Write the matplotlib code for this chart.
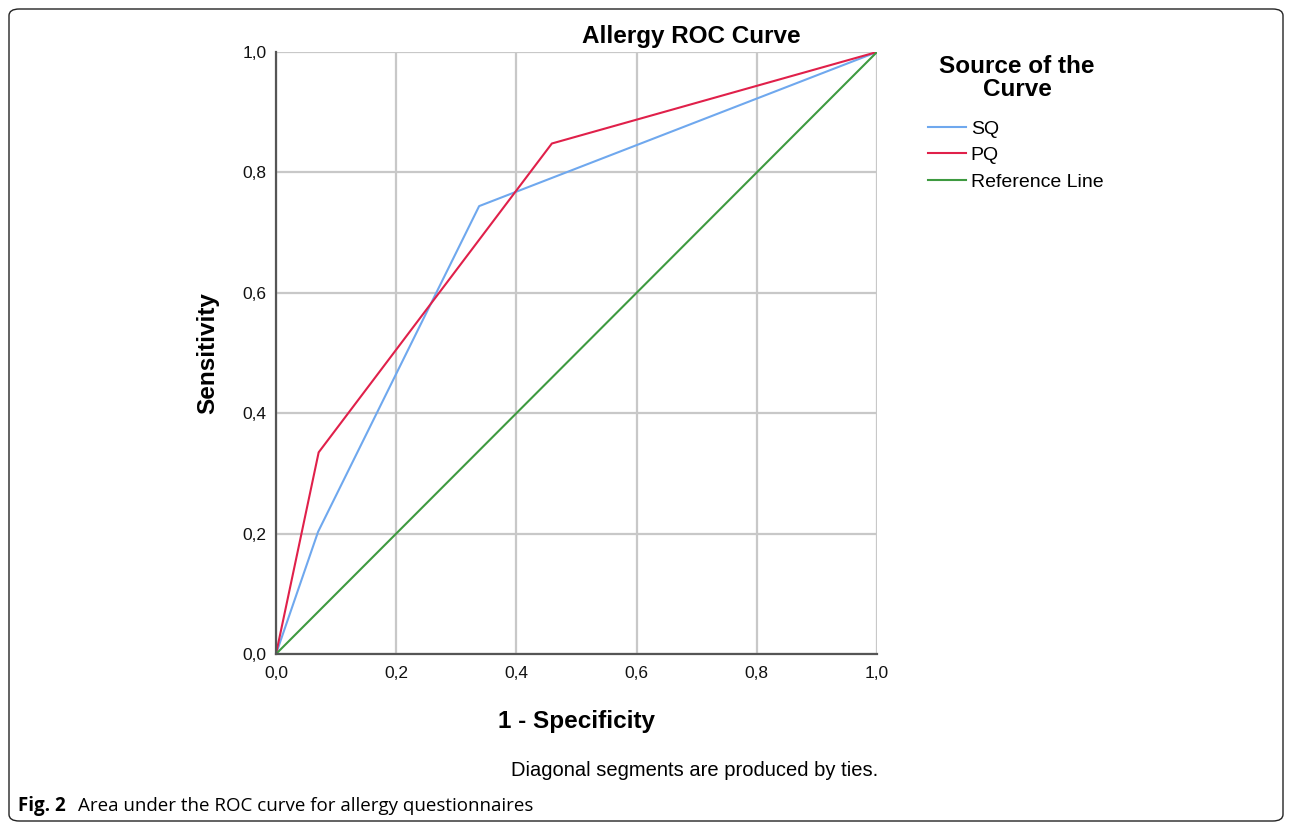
import numpy as np
import matplotlib
matplotlib.use('Agg')
import matplotlib.pyplot as plt
from matplotlib.patches import FancyBboxPatch

# ROC data
sq_fpr = [0.0, 0.070, 0.338, 1.0]
sq_tpr = [0.0, 0.203, 0.744, 1.0]
pq_fpr = [0.0, 0.071, 0.459, 1.0]
pq_tpr = [0.0, 0.335, 0.848, 1.0]
ref_x = [0.0, 1.0]
ref_y = [0.0, 1.0]
ticks = [0.0, 0.2, 0.4, 0.6, 0.8, 1.0]
tick_labels = ['0,0', '0,2', '0,4', '0,6', '0,8', '1,0']

W, H = 1292, 827
fig = plt.figure(figsize=(W / 100, H / 100), dpi=100)
plt.rcParams['font.family'] = ['Liberation Sans', 'DejaVu Sans']

# rounded frame round the whole figure
frame = FancyBboxPatch((9 / W, 6 / H), 1274 / W, 812 / H,
                       boxstyle='round,pad=0,rounding_size=0.008',
                       transform=fig.transFigure, fill=False,
                       edgecolor='#222222', linewidth=1.0)
fig.patches.append(frame)

ax = fig.add_axes([276 / W, 1 - 654 / H, 601 / W, 602 / H])
ax.plot(sq_fpr, sq_tpr, color='#6FA8EE', linewidth=1.5, label='SQ')
ax.plot(pq_fpr, pq_tpr, color='#E0204A', linewidth=1.5, label='PQ')
ax.plot(ref_x, ref_y, color='#3E9A40', linewidth=1.5, label='Reference Line')

ax.set_xlim(0, 1)
ax.set_ylim(0, 1)
ax.set_xticks(ticks)
ax.set_xticklabels(tick_labels)
ax.set_yticks(ticks)
ax.set_yticklabels(tick_labels)
ax.tick_params(length=0, labelsize=12.5, colors='#111111')
ax.tick_params(axis='y', pad=7)
ax.tick_params(axis='x', pad=9)
ax.grid(True, color='#c8c8c8', linewidth=1.6)
ax.set_axisbelow(True)
for s in ['top', 'right']:
    ax.spines[s].set_visible(False)
for s in ['left', 'bottom']:
    ax.spines[s].set_color('#555555')
    ax.spines[s].set_linewidth(1.6)

ax.set_xlabel('1 - Specificity', fontsize=17.5, fontweight='bold')
ax.set_ylabel('Sensitivity', fontsize=17.5, fontweight='bold')
ax.xaxis.set_label_coords(0.5, -(710 - 654) / 602)
ax.yaxis.set_label_coords(-0.095, 0.5)

fig.text(691 / W, 1 - 37 / H, 'Allergy ROC Curve', fontsize=17.5,
         fontweight='bold', ha='center', va='center')

# legend: title as separate text so it can be centred above the entries
fig.text(1017 / W, 1 - 78 / H, 'Source of the\nCurve', fontsize=17.5,
         fontweight='bold', ha='center', va='center', multialignment='center',
         linespacing=1.0)
leg = ax.legend(loc='upper left', bbox_to_anchor=(928 / W, 1 - 120 / H),
                bbox_transform=fig.transFigure, frameon=False, fontsize=14,
                handlelength=1.95, handletextpad=0.25, labelspacing=0.46,
                borderpad=0, borderaxespad=0)

fig.text(878 / W, 1 - 771 / H, 'Diagonal segments are produced by ties.',
         fontsize=14.5, ha='right', va='center')

fig.text(18 / W, 1 - 806 / H, 'Fig. 2', fontsize=13.5, fontweight='bold',
         family=['Open Sans', 'DejaVu Sans'], ha='left', va='center')
fig.text(78 / W, 1 - 806 / H, 'Area under the ROC curve for allergy questionnaires',
         fontsize=13.5, family=['Open Sans', 'DejaVu Sans'], ha='left', va='center')

fig.savefig('out.png', dpi=100)
